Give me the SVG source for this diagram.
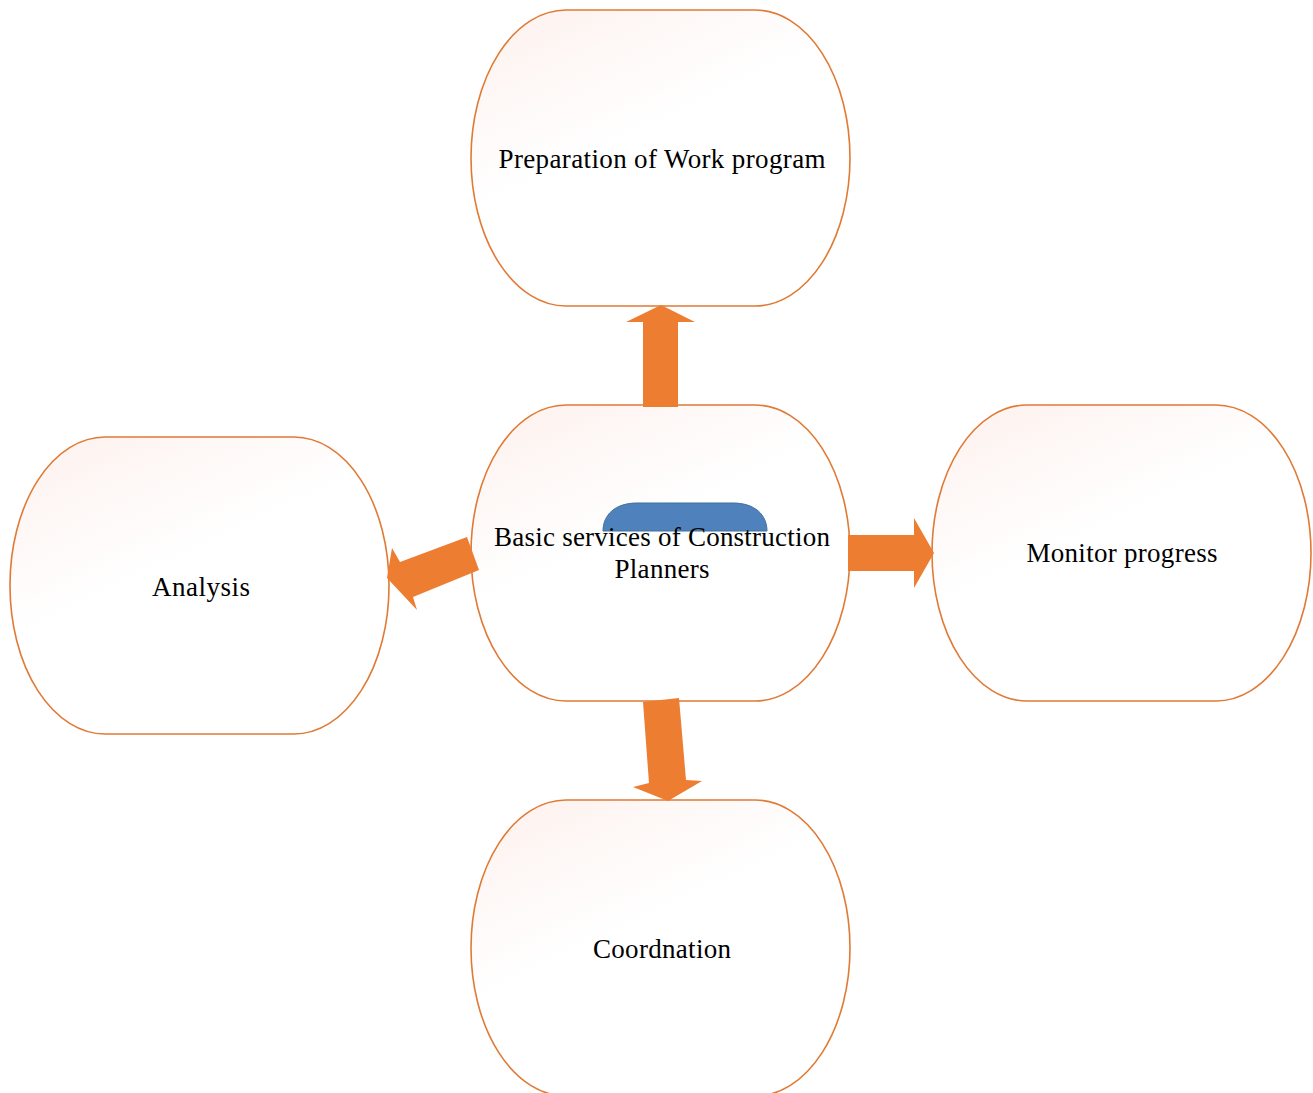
<svg xmlns="http://www.w3.org/2000/svg" width="1313" height="1093" viewBox="0 0 1313 1093">
  <defs>
    <linearGradient id="nodeFill" x1="0" y1="0" x2="0.6" y2="1">
      <stop offset="0" stop-color="#fdf1ed"/>
      <stop offset="0.5" stop-color="#ffffff"/>
      <stop offset="1" stop-color="#ffffff"/>
    </linearGradient>
  </defs>
  <style>
    .node rect.box { fill: url(#nodeFill); stroke: #e07a35; stroke-width: 1.6; }
    .label { font-family: "Liberation Serif", "Times New Roman", serif; font-size: 27px; fill: #000; text-anchor: middle; }
    .arrow { fill: #ed7d31; }
  </style>

  <rect width="1313" height="1093" fill="#ffffff"/>

  <!-- Top node -->
  <g id="node-work-program" class="node">
    <rect class="box" x="471" y="10" width="379" height="296" rx="95" ry="148"/>
    <text class="label" x="662" y="168" textLength="327">Preparation of Work program</text>
  </g>

  <!-- Centre node -->
  <g id="node-basic-services" class="node">
    <rect class="box" x="471" y="405" width="379" height="296" rx="95" ry="148"/>
    <path d="M603,531 C603,515 615,503 637,503 L733,503 C755,503 767,515 767,531 Z" fill="#4f81bd" stroke="#41719c" stroke-width="1"/>
    <text class="label" x="662" y="546" textLength="336">Basic services of Construction</text>
    <text class="label" x="662" y="578" textLength="95">Planners</text>
  </g>

  <!-- Right node -->
  <g id="node-monitor" class="node">
    <rect class="box" x="932" y="405" width="379" height="296" rx="95" ry="148"/>
    <text class="label" x="1122" y="562" textLength="191">Monitor progress</text>
  </g>

  <!-- Left node -->
  <g id="node-analysis" class="node">
    <rect class="box" x="10" y="437" width="379" height="297" rx="95" ry="148"/>
    <text class="label" x="201" y="596" textLength="98">Analysis</text>
  </g>

  <!-- Bottom node -->
  <g id="node-coordination" class="node">
    <rect class="box" x="471" y="800" width="379" height="296" rx="95" ry="148"/>
    <text class="label" x="662" y="958" textLength="138">Coordnation</text>
  </g>

  <!-- Block arrows from the centre node -->
  <g id="connectors">
    <polygon class="arrow" points="643,407 678,407 678,322 695,322 661,305 626,322 643,322"/>
    <polygon class="arrow" points="848,535 914,535 914,518 934,553 914,588 914,571 848,571"/>
    <polygon class="arrow" points="643,702 679,698 686,780 702,781 668,801 633,787 649,783"/>
    <polygon class="arrow" points="467,537 479,570 413,597 417,610 387,578 392,548 400,562"/>
  </g>
</svg>
